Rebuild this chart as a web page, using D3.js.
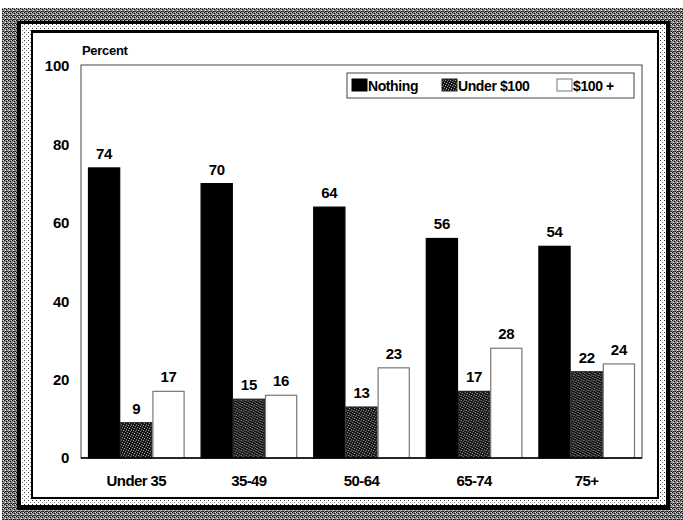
<!DOCTYPE html>
<html>
<head>
<meta charset="utf-8">
<script src="https://cdn.jsdelivr.net/npm/d3@7"></script>
<style>
  body { margin: 0; background: #fff; }
  svg text { font-family: "Liberation Sans", Arial, sans-serif; font-weight: bold; fill: #000; }
</style>
</head>
<body>
<svg width="683" height="520"></svg>
<script>
// values
var categories = ["Under 35", "35-49", "50-64", "65-74", "75+"];
var seriesNames = ["Nothing", "Under $100", "$100 +"];
var nothing = [74, 70, 64, 56, 54];
var under100 = [9, 15, 13, 17, 22];
var over100 = [17, 16, 23, 28, 24];
var yTicks = [0, 20, 40, 60, 80, 100];

var svg = d3.select("svg");
var defs = svg.append("defs");

// halftone textures for the scanned frame and the grey bars
function pattern(id, size, bg, dots) {
  var p = defs.append("pattern").attr("id", id)
    .attr("width", size).attr("height", size)
    .attr("patternUnits", "userSpaceOnUse");
  p.append("rect").attr("width", size).attr("height", size).attr("fill", bg);
  dots.forEach(function(d) {
    p.append("rect").attr("x", d[0]).attr("y", d[1])
      .attr("width", 1).attr("height", 1).attr("fill", d[2]);
  });
}
pattern("tex", 4, "#8a8a8a", [[0,0,"#000"],[2,1,"#000"],[1,2,"#fff"],[3,3,"#222"],[3,0,"#ddd"],[1,3,"#111"],[2,3,"#444"]]);
pattern("dots", 4, "#fff", [[0,0,"#333"],[2,2,"#777"]]);
pattern("grey", 5, "#151515", [[0,0,"#aaa"],[2,1,"#888"],[4,2,"#999"],[1,3,"#bbb"],[3,4,"#777"],[3,0,"#555"]]);

// frame
svg.append("rect").attr("x", 2).attr("y", 8).attr("width", 681).attr("height", 512).attr("fill", "url(#tex)");
svg.append("rect").attr("x", 17).attr("y", 21).attr("width", 653).attr("height", 489).attr("fill", "#000");
svg.append("rect").attr("x", 21).attr("y", 24).attr("width", 645).attr("height", 481).attr("fill", "url(#dots)");
svg.append("rect").attr("x", 31).attr("y", 30).attr("width", 628).attr("height", 469).attr("fill", "#000");
svg.append("rect").attr("x", 33).attr("y", 33).attr("width", 624).attr("height", 464).attr("fill", "#fff");

var plotLeft = 81, plotRight = 642, plotTop = 65, plotBottom = 458;

var x0 = d3.scaleBand().domain(categories).range([80, 643]).paddingInner(0.142).paddingOuter(0.071);
var x1 = d3.scaleBand().domain(seriesNames).range([0, x0.bandwidth()]);
var y = d3.scaleLinear().domain([0, 100]).range([plotBottom, plotTop + 1]);

// plot frame
svg.append("rect").attr("x", plotLeft).attr("y", plotTop)
  .attr("width", plotRight - plotLeft).attr("height", plotBottom - plotTop)
  .attr("fill", "none").attr("stroke", "#444").attr("stroke-width", 1);

var fills = ["#000", "url(#grey)", "#fff"];
var strokes = ["#000", "#222", "#777"];
var rows = categories.map(function(c, i) {
  return { cat: c, vals: [nothing[i], under100[i], over100[i]] };
});

var g = svg.append("g").selectAll("g").data(rows).enter().append("g")
  .attr("transform", function(d) { return "translate(" + x0(d.cat) + ",0)"; });

g.selectAll("rect").data(function(d) { return d.vals.map(function(v, k) { return { v: v, k: k }; }); })
  .enter().append("rect")
  .attr("x", function(d) { return x1(seriesNames[d.k]) + 0.5; })
  .attr("y", function(d) { return y(d.v); })
  .attr("width", x1.bandwidth() - 1)
  .attr("height", function(d) { return plotBottom - y(d.v); })
  .attr("fill", function(d) { return fills[d.k]; })
  .attr("stroke", function(d) { return strokes[d.k]; })
  .attr("stroke-width", 1.2);

g.selectAll("text").data(function(d) { return d.vals.map(function(v, k) { return { v: v, k: k }; }); })
  .enter().append("text")
  .attr("x", function(d) { return x1(seriesNames[d.k]) + x1.bandwidth() / 2; })
  .attr("y", function(d) { return y(d.v) - 9; })
  .attr("text-anchor", "middle")
  .attr("font-size", 15)
  .attr("letter-spacing", -0.3)
  .text(function(d) { return d.v; });

// baseline
svg.append("line").attr("x1", plotLeft).attr("x2", plotRight).attr("y1", plotBottom).attr("y2", plotBottom)
  .attr("stroke", "#000").attr("stroke-width", 1.5);

// y axis labels
var yAxis = d3.axisLeft(y).tickValues(yTicks).tickSize(0).tickPadding(12);
var ya = svg.append("g").attr("transform", "translate(" + plotLeft + ",0)").call(yAxis);
ya.select(".domain").remove();
ya.selectAll("text").attr("font-size", 15).attr("font-family", null).attr("letter-spacing", -0.3);

// x axis labels
var xAxis = d3.axisBottom(x0).tickSize(0).tickPadding(17);
var xa = svg.append("g").attr("transform", "translate(0," + plotBottom + ")").call(xAxis);
xa.select(".domain").remove();
xa.selectAll("text").attr("font-size", 15).attr("font-family", null).attr("letter-spacing", -0.6);

svg.append("text").attr("x", plotLeft + 1).attr("y", 55).attr("font-size", 13)
  .attr("letter-spacing", -0.3).text("Percent");

// legend
var lg = svg.append("g");
lg.append("rect").attr("x", 347).attr("y", 73).attr("width", 287).attr("height", 25)
  .attr("fill", "#fff").attr("stroke", "#444").attr("stroke-width", 1);
var legX = [352, 442, 557];
seriesNames.forEach(function(s, k) {
  lg.append("rect").attr("x", legX[k]).attr("y", 79).attr("width", 15).attr("height", 12)
    .attr("fill", fills[k]).attr("stroke", strokes[k]).attr("stroke-width", 1);
  lg.append("text").attr("x", legX[k] + 16).attr("y", 91).attr("font-size", 14)
    .attr("letter-spacing", -0.4).text(s);
});
</script>
</body>
</html>
